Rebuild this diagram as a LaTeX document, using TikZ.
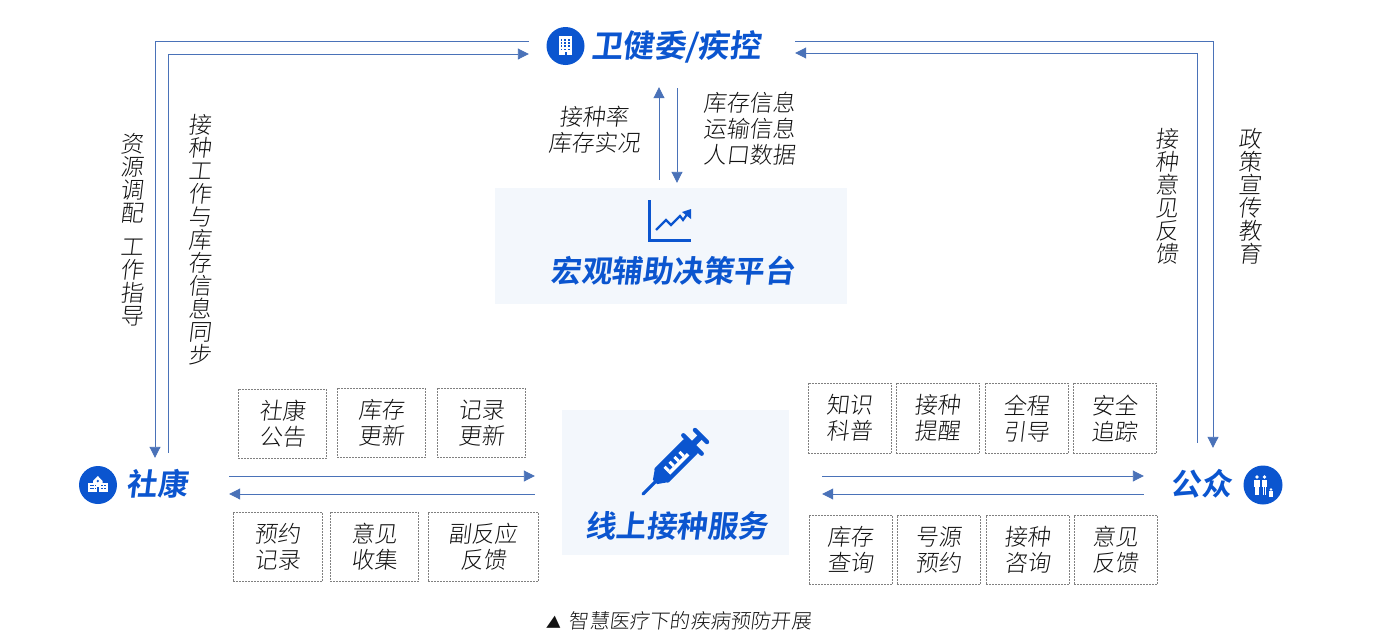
\documentclass[tikz,border=0pt]{standalone}
\usepackage{fontspec}
\usepackage{tikz}
\usetikzlibrary{arrows.meta,calc}
\newfontfamily\cjk[FakeSlant=0.12,UprightFont=* Light,BoldFont=* Bold]{Noto Sans CJK SC}
\definecolor{hubblue}{HTML}{0B55CF}
\definecolor{linkblue}{HTML}{4A72B8}
\definecolor{panelbg}{HTML}{F3F7FC}
\definecolor{inktext}{HTML}{111111}

\begin{document}
\begin{tikzpicture}[x=1pt, y=-1pt,
                    hub/.style={inner sep=0pt},
                    title/.style={inner sep=0pt, text=hubblue, font=\cjk\bfseries\fontsize{30.5}{34}\selectfont},
                    label/.style={inner sep=0pt, align=center, text=inktext, font=\cjk\fontsize{23}{26}\selectfont},
                    vlabel/.style={inner sep=0pt, align=center, text=inktext, font=\cjk\fontsize{23}{23}\selectfont},
                    panel/.style={fill=panelbg, inner sep=0pt},
                    tag/.style={draw=black!50, dash pattern=on 1.8pt off 1.2pt, line width=0.6pt, inner sep=0pt, align=center,
                                text=inktext, font=\cjk\fontsize{23}{26}\selectfont},
                    badge/.style={circle, fill=hubblue, inner sep=0pt},
                    link/.style={draw=linkblue, line width=0.9pt},
                    arrow/.style={link, -{Triangle[length=11pt, width=11pt]}}]
\useasboundingbox (0,0) rectangle (1382,640);

% Hubs
\node[hub, minimum width=266pt, minimum height=78pt] (wjw) at (662,47) {};
\node[hub, minimum width=150pt, minimum height=54pt] (shekang) at (154,485) {};
\node[hub, minimum width=138pt, minimum height=74pt] (gongzhong) at (1213,485) {};
\node[title, font=\cjk\bfseries\fontsize{31.5}{34}\selectfont] (wjwtext) at (676,47) {卫健委/疾控};
\node[title] (shekangtext) at (157,484) {社康};
\node[title] (gongzhongtext) at (1201,484) {公众};
\node[badge, minimum size=38pt] (wjwicon) at (565.5,46) {};
\node[badge, minimum size=38pt] (shekangicon) at (98,485) {};
\node[badge, minimum size=39pt] (gongzhongicon) at (1263,485) {};

% Panels
\node[panel, minimum width=352pt, minimum height=116pt] (platform) at (671,246) {};
\node[title] (platformtext) at (672.5,271) {宏观辅助决策平台};
\node[panel, minimum width=227pt, minimum height=145pt] (service) at (675.5,482.5) {};
\node[title] (servicetext) at (676.5,526) {线上接种服务};

% Building icon
\fill[white] (559,36) rectangle (572,55);
\foreach \i in {0,1,2} {
    \foreach \j in {0,...,3} {
        \fill[hubblue] ({560.8+3.6*\i},{39+3.2*\j}) rectangle ++(1.6,1.6);
    }
}
\fill[hubblue] (564.5,52) rectangle (566.5,55);

% School icon
\fill[white] (88,483) rectangle (107.5,491.5);
\fill[white] (93,481) -- (97.8,476) -- (102.6,481) -- (102.6,491.5) -- (93,491.5) -- cycle;
\foreach \i in {0,...,3} {
    \fill[hubblue] ({89.5+\i*1.9},485) rectangle ++(1.1,1.4);
    \fill[hubblue] ({89.5+\i*1.9},488) rectangle ++(1.1,1.4);
    \fill[hubblue] ({100.5+\i*1.6},485) rectangle ++(1,1.4);
    \fill[hubblue] ({100.5+\i*1.6},488) rectangle ++(1,1.4);
}
\fill[hubblue] (97.8,481) circle (1.3);
\fill[hubblue] (96.8,487) rectangle (98.8,491.5);

% People icon
\foreach \px/\ph in {1257/477,1264.5/477} {
    \fill[white] (\px,\ph) circle (1.9);
    \fill[white] ({\px-2.6},{\ph+2.6}) rectangle ({\px+2.6},{\ph+10});
    \fill[white] ({\px-1.8},{\ph+10}) rectangle ({\px-0.3},{\ph+17.5});
    \fill[white] ({\px+0.3},{\ph+10}) rectangle ({\px+1.8},{\ph+17.5});
}
\fill[white] (1271,489.5) circle (1.4);
\fill[white] (1269.2,491.3) rectangle (1272.8,497);

% Chart icon
\draw[hubblue, line width=3pt] (649,200) -- (649,240) -- (691,240);
\draw[hubblue, line width=2.2pt] (656,230) -- (666,220) -- (671,225) -- (680,216) -- (683,220) -- (688,213);
\fill[hubblue] (691,209) -- (691,219) -- (682,212) -- cycle;

% Syringe icon
\begin{scope}[shift={(672,465)}, rotate=45]
    \draw[hubblue, line width=3.2pt, line cap=round] (-41,0) -- (-20,0);
    \fill[hubblue] (-24,-3) -- (-14,-10) -- (-14,10) -- (-24,3) -- cycle;
    \fill[hubblue, rounded corners=2pt] (-16,-10) rectangle (28,10);
    % white comb in the barrel
    \fill[white] (-8,2) rectangle (19,5.5);
    \foreach \t in {-8,-1,6,13} {
        \fill[white] (\t,-4) rectangle ++(3,6);
    }
    \draw[hubblue, line width=4.4pt, line cap=round] (29,-13) -- (29,13);
    \fill[hubblue] (29,-3) rectangle (42,3);
    \draw[hubblue, line width=4.4pt, line cap=round] (41,-8.5) -- (41,8.5);
\end{scope}

% Labels
\node[label] (ratelabel) at (594,130) {接种率\\库存实况};
\node[label] (stocklabel) at (749,129) {库存信息\\运输信息\\人口数据};
\node[vlabel] (resourcelabel) at (131.5,230) {资\\源\\调\\配\\[11pt]工\\作\\指\\导};
\node[vlabel] (synclabel) at (199.5,240) {接\\种\\工\\作\\与\\库\\存\\信\\息\\同\\步};
\node[vlabel] (opinionlabel) at (1166.5,196) {接\\种\\意\\见\\反\\馈};
\node[vlabel] (policylabel) at (1249.5,196) {政\\策\\宣\\传\\教\\育};
\node[label, font=\cjk\fontsize{20.2}{26}\selectfont] (caption) at (678.5,621) {{\fontsize{15}{26}\selectfont ▲}\hspace{8pt}智慧医疗下的疾病预防开展};

% Dashed tags
\foreach \n/\l/\t/\r/\b/\txt in {a/238/389/327/459/{社康\\公告}, b/337/388/426/458/{库存\\更新}, c/437/388/526/458/{记录\\更新},
                                 d/233/512/323/582/{预约\\记录}, e/330/512/419/582/{意见\\收集}, f/428/512/539/582/{副反应\\反馈},
                                 g/808/383/892/454/{知识\\科普}, h/896/383/980/454/{接种\\提醒}, i/985/383/1069/454/{全程\\引导}, j/1073/383/1157/454/{安全\\追踪},
                                 k/809/515/893/585/{库存\\查询}, m/897/515/981/585/{号源\\预约}, o/986/515/1070/585/{接种\\咨询}, p/1074/515/1158/585/{意见\\反馈}} {
    \node[tag, minimum width={\r-\l-0.6}, minimum height={\b-\t-0.6}] (tag\n) at ({(\l+\r)/2-0.3},{(\t+\b)/2-0.3}) {\txt};
}

% Long connectors
\draw[arrow] ([yshift=6pt]wjw.west) -| ([xshift=1pt]shekang.north);
\draw[arrow, shorten <=5pt] ([xshift=14pt]shekang.north) |- ([yshift=-7pt]wjw.west);
\draw[arrow] ([yshift=6pt]wjw.east) -| (gongzhong.north);
\draw[arrow, shorten <=5pt] ([xshift=-16pt]gongzhong.north) |- ([yshift=-6pt]wjw.east);

% Platform connectors
\draw[arrow, shorten <=8pt, shorten >=1pt] ([xshift=-12pt]platform.north) -- ([xshift=-3pt]wjw.south);
\draw[arrow, shorten <=2pt, shorten >=5pt] ([xshift=15pt]wjw.south) -- ([xshift=6pt]platform.north);

% Service connectors
\draw[arrow, shorten >=27pt] ([yshift=9pt]shekang.east) -- ([yshift=6.5pt]service.west);
\draw[arrow, shorten <=27pt] ([yshift=-11.5pt]service.west) -- ([yshift=-9pt]shekang.east);
\draw[arrow, shorten <=33pt] ([yshift=6.5pt]service.east) -- ([yshift=9pt]gongzhong.west);
\draw[arrow, shorten >=33pt] ([yshift=-9pt]gongzhong.west) -- ([yshift=-11.5pt]service.east);

\end{tikzpicture}
\end{document}
